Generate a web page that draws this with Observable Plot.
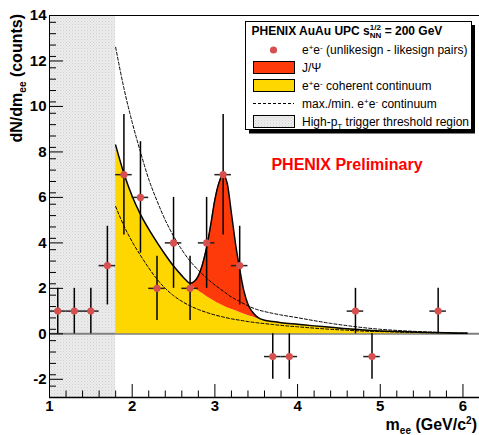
<!DOCTYPE html>
<html><head><meta charset="utf-8">
<script src="https://cdn.jsdelivr.net/npm/d3@7"></script>
<script src="https://cdn.jsdelivr.net/npm/@observablehq/plot@0.6"></script>
<style>
html,body{margin:0;padding:0;background:#fff;}
svg{display:block;}
</style>
</head><body><div id="chart"></div>
<script>
// ---------- data ----------
const binMass   = [1.1, 1.3, 1.5, 1.7, 1.9, 2.1, 2.3, 2.5, 2.7, 2.9, 3.1, 3.3, 3.7, 3.9, 4.7, 4.9, 5.7];
const binCounts = [1, 1, 1, 3, 7, 6, 2, 4, 2, 4, 7, 3, -1, -1, 1, -1, 1];
const binErrors = [1, 1, 1, 1.73, 2.65, 2.45, 1.41, 2, 1.41, 2, 2.65, 1.73, 1, 1, 1, 1, 1];
const binHalfWidth = 0.1;

const contMass  = [1.8, 1.9, 2.0, 2.1, 2.2, 2.3, 2.4, 2.5, 2.6, 2.7, 2.8, 2.9, 3.0, 3.1, 3.2, 3.3, 3.4, 3.5, 3.6, 3.7, 3.8, 4.0, 4.2, 4.4, 4.6, 4.8, 5.0, 5.2, 5.4, 5.6, 5.8, 6.0, 6.05];
const contYield = [8.3, 7.05, 6.05, 5.25, 4.6, 4.02, 3.48, 2.98, 2.56, 2.2, 1.9, 1.64, 1.42, 1.23, 1.08, 0.94, 0.81, 0.69, 0.6, 0.54, 0.49, 0.42, 0.35, 0.29, 0.22, 0.17, 0.13, 0.1, 0.08, 0.06, 0.045, 0.03, 0.03];
const contMax   = [12.6, 10.8, 9.3, 8.0, 6.8, 5.85, 5.0, 4.3, 3.7, 3.2, 2.8, 2.45, 2.15, 1.88, 1.62, 1.42, 1.23, 1.08, 0.98, 0.9, 0.83, 0.71, 0.58, 0.46, 0.36, 0.27, 0.2, 0.15, 0.11, 0.08, 0.05, 0.03, 0.03];
const contMin   = [5.6, 4.75, 4.05, 3.45, 2.9, 2.4, 2.0, 1.68, 1.43, 1.23, 1.07, 0.94, 0.83, 0.74, 0.66, 0.6, 0.54, 0.49, 0.45, 0.41, 0.37, 0.31, 0.25, 0.2, 0.16, 0.12, 0.1, 0.08, 0.06, 0.05, 0.04, 0.03, 0.03];

const jpsiMass = [2.65, 2.70, 2.75, 2.80, 2.85, 2.90, 2.95, 3.00, 3.05, 3.10, 3.15, 3.20, 3.25, 3.30, 3.35, 3.40, 3.45, 3.50, 3.55];
const jpsiBase = [2.37, 2.2, 2.04, 1.9, 1.77, 1.64, 1.53, 1.42, 1.32, 1.23, 1.15, 1.08, 1.01, 0.94, 0.87, 0.81, 0.75, 0.69, 0.645];
const jpsiTop  = [2.37, 2.22, 2.3, 2.55, 3.05, 3.8, 4.8, 5.9, 6.65, 7.0, 6.6, 5.3, 3.95, 2.85, 1.9, 1.3, 0.98, 0.78, 0.66];

const triggerRegion = [1.0, 1.8];
const xDomain = [1, 6.2];
const yDomain = [-2.8, 14];
const xMajor = [1, 2, 3, 4, 5, 6];
const yMajor = [-2, 0, 2, 4, 6, 8, 10, 12, 14];

const legendTitle = "PHENIX AuAu UPC s";
const legendLabels = ["(unlikesign - likesign pairs)", "J/\u03A8", "coherent continuum", "continuum", "trigger threshold region"];
const prelimText = "PHENIX Preliminary";

// ---------- tables ----------
const points = binMass.map((m, i) => ({m, n: binCounts[i], e: binErrors[i]}));
const cont = contMass.map((m, i) => ({m, c: contYield[i], hi: contMax[i], lo: contMin[i]}));
const jpsi = jpsiMass.map((m, i) => ({m, base: jpsiBase[i], top: jpsiTop[i]}));
const jLo = jpsiMass[0], jHi = jpsiMass[jpsiMass.length - 1];
const total = [
  ...cont.filter(d => d.m < jLo).map(d => ({m: d.m, y: d.c})),
  ...jpsi.map(d => ({m: d.m, y: d.top})),
  ...cont.filter(d => d.m > jHi).map(d => ({m: d.m, y: d.c}))
];
const yMinor = d3.range(yDomain[0], yDomain[1] + 1e-9, 0.5).filter(v => Math.abs(v / 2 - Math.round(v / 2)) > 1e-6 && v > yDomain[0]);
const xMinor = d3.range(1.2, xDomain[1] + 1e-9, 0.2).filter(v => Math.abs(v - Math.round(v)) > 1e-6);

const W = 479, H = 435, ML = 49, MR = 0, MT = 15, MB = 38;
const FW = W - ML - MR, FH = H - MT - MB;
const FONT = "'Liberation Sans', Arial, Helvetica, sans-serif";
const RED = "#ff3a0a", YELLOW = "#ffd700", DOT = "#d65050";

const plot = Plot.plot({
  width: W, height: H,
  marginLeft: ML, marginRight: MR, marginTop: MT, marginBottom: MB,
  x: {domain: xDomain},
  y: {domain: yDomain},
  style: {fontFamily: FONT, background: "white", overflow: "visible"},
  marks: [
    Plot.rect([triggerRegion], {x1: d => d[0], x2: d => d[1], fill: "url(#hatch)"}),
    Plot.ruleY([0], {stroke: "#808080", strokeWidth: 2}),
    Plot.areaY(cont, {x: "m", y: "c", fill: YELLOW, curve: "monotone-x"}),
    Plot.areaY(jpsi, {x: "m", y1: "base", y2: "top", fill: RED, curve: "monotone-x"}),
    Plot.line(cont, {x: "m", y: "hi", stroke: "black", strokeWidth: 1, strokeDasharray: "3,2", curve: "monotone-x"}),
    Plot.line(cont, {x: "m", y: "lo", stroke: "black", strokeWidth: 1, strokeDasharray: "3,2", curve: "monotone-x"}),
    Plot.line(total, {x: "m", y: "y", stroke: "black", strokeWidth: 1.5, curve: "monotone-x"}),
    Plot.ruleX(points, {x: "m", y1: d => d.n - d.e, y2: d => d.n + d.e, stroke: "black", strokeWidth: 1.5}),
    Plot.ruleY(points, {y: "n", x1: d => d.m - binHalfWidth, x2: d => d.m + binHalfWidth, stroke: "#222", strokeWidth: 1.5}),
    Plot.dot(points, {x: "m", y: "n", r: 3.6, fill: DOT, stroke: "none"}),
    // frame
    Plot.ruleX([xDomain[0]], {stroke: "black", strokeWidth: 1}),
    Plot.ruleY([yDomain[1]], {stroke: "black", strokeWidth: 1}),
    Plot.ruleY([yDomain[0]], {stroke: "black", strokeWidth: 1.5}),
    // inward ticks
    Plot.tickY(yMajor, {y: d => d, insetRight: FW - 14, stroke: "black"}),
    Plot.tickY(yMinor, {y: d => d, insetRight: FW - 7, stroke: "black"}),
    Plot.tickX(xMajor, {x: d => d, insetTop: FH - 13, stroke: "black"}),
    Plot.tickX(xMinor, {x: d => d, insetTop: FH - 6.5, stroke: "black"}),
    // tick labels
    Plot.axisY(yMajor, {tickSize: 0, tickPadding: 3, fontSize: 15, fontWeight: "bold", label: null, tickFormat: d => String(d), fill: "black"}),
    Plot.axisX(xMajor, {tickSize: 0, tickPadding: 3, fontSize: 15, fontWeight: "bold", label: null, tickFormat: d => String(d), fill: "black"})
  ]
});

document.getElementById("chart").appendChild(plot);

// ---------- decorations ----------
const svg = d3.select(plot);
const defs = svg.insert("defs", ":first-child");
const pat = defs.append("pattern").attr("id", "hatch").attr("width", 3).attr("height", 3).attr("patternUnits", "userSpaceOnUse");
pat.append("rect").attr("width", 3).attr("height", 3).attr("fill", "#ececec");
pat.append("rect").attr("x", 0).attr("y", 0).attr("width", 1).attr("height", 1).attr("fill", "#cfcfcf");
pat.append("rect").attr("x", 1.5).attr("y", 1.5).attr("width", 1).attr("height", 1).attr("fill", "#d8d8d8");

function rich(g, x, y, parts, attrs) {
  const t = g.append("text").attr("x", x).attr("y", y).attr("font-family", FONT)
    .attr("text-anchor", "start").attr("fill", "black");
  for (const k in attrs) t.attr(k, attrs[k]);
  let shift = 0, lastW = 0;
  for (const p of parts) {
    const ts = t.append("tspan").text(p.t);
    const target = p.shift || 0;
    ts.attr("dy", target - shift);
    shift = target;
    if (p.size) ts.attr("font-size", p.size);
    if (p.back) ts.attr("dx", -lastW);
    lastW = ts.node().getComputedTextLength();
  }
  return t;
}

// axis titles
rich(svg, 0, 0, [{t: "dN/dm"}, {t: "ee", shift: 4, size: 10}, {t: " (counts)"}],
  {"font-size": 16, "font-weight": "bold", "text-anchor": "end", transform: "translate(21.5,14) rotate(-90)"});
rich(svg, 477, 430, [{t: "m"}, {t: "ee", shift: 4, size: 10}, {t: " (GeV/c"}, {t: "2", shift: -6, size: 10}, {t: ")"}],
  {"font-size": 16, "font-weight": "bold", "text-anchor": "end"});

// preliminary label
svg.append("text").attr("x", 347).attr("y", 170).attr("text-anchor", "middle")
  .attr("font-family", FONT).attr("font-size", 16).attr("font-weight", "bold").attr("fill", "#ff0000").text(prelimText);

// legend
const lg = svg.append("g");
lg.append("rect").attr("x", 249).attr("y", 25).attr("width", 226).attr("height", 108.5).attr("fill", "black");
lg.append("rect").attr("x", 245.5).attr("y", 21.5).attr("width", 226).attr("height", 108).attr("fill", "white").attr("stroke", "black");
rich(lg, 251.5, 35, [{t: legendTitle}, {t: "1/2", shift: -5, size: 8}, {t: "NN", shift: 3, size: 8, back: true}, {t: " = 200 GeV"}],
  {"font-size": 12, "font-weight": "bold"});
const tx = 302, bx = 253, bw = 41, bh = 12;
// row 1 dot
lg.append("circle").attr("cx", 273.5).attr("cy", 50).attr("r", 3.6).attr("fill", DOT);
rich(lg, tx, 54.3, [{t: "e"}, {t: "+", shift: -4, size: 8}, {t: "e"}, {t: "-", shift: -4, size: 8}, {t: " " + legendLabels[0]}], {"font-size": 12});
// row 2 J/psi
lg.append("rect").attr("x", bx + 0.5).attr("y", 61.5).attr("width", bw).attr("height", bh).attr("fill", RED).attr("stroke", "black");
rich(lg, tx, 71.8, [{t: legendLabels[1]}], {"font-size": 12});
// row 3 continuum
lg.append("rect").attr("x", bx + 0.5).attr("y", 79.5).attr("width", bw).attr("height", bh).attr("fill", YELLOW).attr("stroke", "black");
rich(lg, tx, 89.8, [{t: "e"}, {t: "+", shift: -4, size: 8}, {t: "e"}, {t: "-", shift: -4, size: 8}, {t: " " + legendLabels[2]}], {"font-size": 12});
// row 4 dashed
lg.append("line").attr("x1", bx).attr("x2", bx + bw).attr("y1", 103.5).attr("y2", 103.5).attr("stroke", "black").attr("stroke-dasharray", "3,2");
rich(lg, tx, 107.8, [{t: "max./min. e"}, {t: "+", shift: -4, size: 8}, {t: "e"}, {t: "-", shift: -4, size: 8}, {t: " " + legendLabels[3]}], {"font-size": 12});
// row 5 trigger region
lg.append("rect").attr("x", bx + 0.5).attr("y", 115.5).attr("width", bw).attr("height", bh).attr("fill", "url(#hatch)").attr("stroke", "black");
rich(lg, tx, 125.8, [{t: "High-p"}, {t: "T", shift: 3, size: 8}, {t: " " + legendLabels[4]}], {"font-size": 12});
</script>
</body></html>
